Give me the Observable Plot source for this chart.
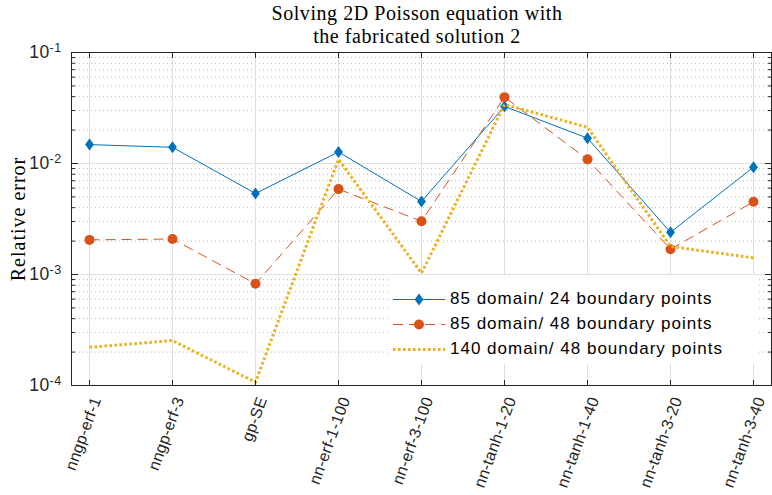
<!DOCTYPE html>
<html><head><meta charset="utf-8">
<script src="https://cdn.jsdelivr.net/npm/d3@7"></script>
<script src="https://cdn.jsdelivr.net/npm/@observablehq/plot@0.6"></script>
<style>
body{margin:0;background:#fff;}
#wrap{position:relative;width:772px;height:495px;overflow:hidden;}
#title{position:absolute;left:67px;width:700px;top:2px;text-align:center;font-family:"Liberation Serif",serif;font-size:20px;line-height:22.5px;color:#000;letter-spacing:0.55px}
#legend{position:absolute;left:390px;top:275px;width:367px;height:89px;background:#fff;font-family:"Liberation Sans",Arial,sans-serif;font-size:17px;letter-spacing:1px;color:#000}
.row{position:absolute;left:0;height:25px;width:367px}
.row svg{position:absolute;left:0;top:0}
.row span{position:absolute;left:60px;top:2px;line-height:20px;white-space:nowrap}
</style></head><body>
<div id="wrap"><div id="title"></div><div id="legend"></div></div>
<script>
const titleLines = ["Solving 2D Poisson equation with", "the fabricated solution 2"];
const yLabel = "Relative error";
const categories = ["nngp-erf-1","nngp-erf-3","gp-SE","nn-erf-1-100","nn-erf-3-100","nn-tanh-1-20","nn-tanh-1-40","nn-tanh-3-20","nn-tanh-3-40"];
const seriesNames = ["85 domain/ 24 boundary points","85 domain/ 48 boundary points","140 domain/ 48 boundary points"];
const err85x24 = [0.0148, 0.0140, 0.00537, 0.0127, 0.00455, 0.0327, 0.0169, 0.00240, 0.00927];
const err85x48 = [0.00205, 0.00209, 0.000824, 0.00588, 0.00302, 0.0396, 0.0109, 0.00169, 0.00452];
const err140x48 = [0.000221, 0.000254, 0.000107, 0.0109, 0.00103, 0.0340, 0.0212, 0.00179, 0.00141];
const yMajorTicks = [1e-4, 1e-3, 1e-2, 1e-1];
const yMinorTicks = [2e-4,3e-4,4e-4,5e-4,6e-4,7e-4,8e-4,9e-4,2e-3,3e-3,4e-3,5e-3,6e-3,7e-3,8e-3,9e-3,2e-2,3e-2,4e-2,5e-2,6e-2,7e-2,8e-2,9e-2];

const colors = ["#0072BD", "#D95319", "#EDB120"];
const rows = (vals) => categories.map((c, i) => ({cat: c, v: vals[i]}));
const d1 = rows(err85x24), d2 = rows(err85x48), d3r = rows(err140x48);

const tallDiamond = {
  draw(ctx, size) {
    const r = Math.sqrt(size / Math.PI);
    const h = r * 1.15, w = r * 0.85;
    ctx.moveTo(0, -h); ctx.lineTo(w, 0); ctx.lineTo(0, h); ctx.lineTo(-w, 0); ctx.closePath();
  }
};

const font = "'Liberation Sans', Arial, sans-serif";
const axisColor = "#262626";

const chart = Plot.plot({
  width: 772, height: 495,
  marginLeft: 71, marginRight: 1, marginTop: 52, marginBottom: 110,
  style: {fontFamily: font, background: "#fff", overflow: "visible"},
  x: {type: "point", domain: categories, padding: 0.19},
  y: {type: "log", domain: [1e-4, 1e-1]},
  marks: [
    Plot.ruleY(yMinorTicks, {stroke: "#bdbdbd", strokeDasharray: "1,3", strokeWidth: 1}),
    Plot.ruleY(yMajorTicks, {stroke: "#e0e0e0", strokeWidth: 1}),
    Plot.ruleX(categories, {stroke: "#e0e0e0", strokeWidth: 1}),
    Plot.line(d1, {x: "cat", y: "v", stroke: colors[0], strokeWidth: 1}),
    Plot.dot(d1, {x: "cat", y: "v", fill: colors[0], r: 5.2, symbol: tallDiamond}),
    Plot.line(d2, {x: "cat", y: "v", stroke: colors[1], strokeWidth: 1, strokeDasharray: "10,6", strokeLinecap: "butt"}),
    Plot.dot(d2, {x: "cat", y: "v", fill: colors[1], r: 5}),
    Plot.line(d3r, {x: "cat", y: "v", stroke: colors[2], strokeWidth: 3, strokeDasharray: "2.6,2.4", strokeLinecap: "butt"}),
    Plot.frame({stroke: axisColor, strokeWidth: 1}),
    // ticks inside
    Plot.axisY(yMajorTicks, {anchor: "left", tickSize: -7, tickFormat: () => "", stroke: axisColor, label: null}),
    Plot.axisY(yMinorTicks, {anchor: "left", tickSize: -4, tickFormat: () => "", stroke: axisColor, label: null}),
    Plot.axisY(yMajorTicks, {anchor: "right", tickSize: -7, tickFormat: () => "", stroke: axisColor, label: null}),
    Plot.axisY(yMinorTicks, {anchor: "right", tickSize: -4, tickFormat: () => "", stroke: axisColor, label: null}),
    Plot.axisX(categories, {anchor: "top", tickSize: -5, tickFormat: () => "", stroke: axisColor, label: null}),
    Plot.axisX(categories, {anchor: "bottom", tickSize: -5, tickFormat: () => "", stroke: axisColor, label: null}),
    // labels
    Plot.axisY(yMajorTicks, {anchor: "left", tickSize: 0, tickPadding: 10, tickFormat: d => "10^" + Math.round(Math.log10(d)), fill: axisColor, label: null}),
    Plot.axisX(categories, {anchor: "bottom", tickSize: 0, tickPadding: 12, tickRotate: -70, fill: axisColor, label: null, dx: 7}),
    Plot.text([yLabel], {frameAnchor: "left", textAnchor: "middle", text: d => d, rotate: -90, dx: -53, fontFamily: "'Liberation Serif', serif", fontSize: 20, fill: "#000"})
  ]
});

const svg = d3.select(chart);
svg.selectAll("text").each(function() {
  const t = d3.select(this);
  const s = t.text();
  if (s.includes("^")) {
    const [base, ex] = s.split("^");
    t.text(null).style("font-size", "17.5px").style("letter-spacing", "0.4px");
    t.append("tspan").text(base);
    t.append("tspan").attr("dy", "-0.5em").style("font-size", "12.5px").text(ex);
  } else if (categories.includes(s)) {
    t.style("font-size", "16px").style("letter-spacing", "0.3px");
  } else if (s === yLabel) {
    t.style("letter-spacing", "1px");
  }
});

const wrap = document.getElementById("wrap");
wrap.insertBefore(chart, wrap.firstChild);
document.getElementById("title").innerHTML = titleLines.join("<br>");

// legend
const legend = d3.select("#legend");
const styles = [
  {dash: null, w: 1, marker: "diamond"},
  {dash: "10,6", w: 1, marker: "circle"},
  {dash: "2.6,2.4", w: 3, marker: null}
];
seriesNames.forEach((name, i) => {
  const row = legend.append("div").attr("class", "row").style("top", (12 + i * 25) + "px");
  const s = row.append("svg").attr("width", 58).attr("height", 25);
  s.append("line").attr("x1", 3).attr("x2", 55).attr("y1", 12.5).attr("y2", 12.5)
    .attr("stroke", colors[i]).attr("stroke-width", styles[i].w).attr("stroke-dasharray", styles[i].dash);
  if (styles[i].marker === "diamond") {
    s.append("path").attr("d", "M29,6.5L33.4,12.5L29,18.5L24.6,12.5Z").attr("fill", colors[i]);
  } else if (styles[i].marker === "circle") {
    s.append("circle").attr("cx", 29).attr("cy", 12.5).attr("r", 5).attr("fill", colors[i]);
  }
  row.append("span").text(name);
});
</script>
</body></html>
